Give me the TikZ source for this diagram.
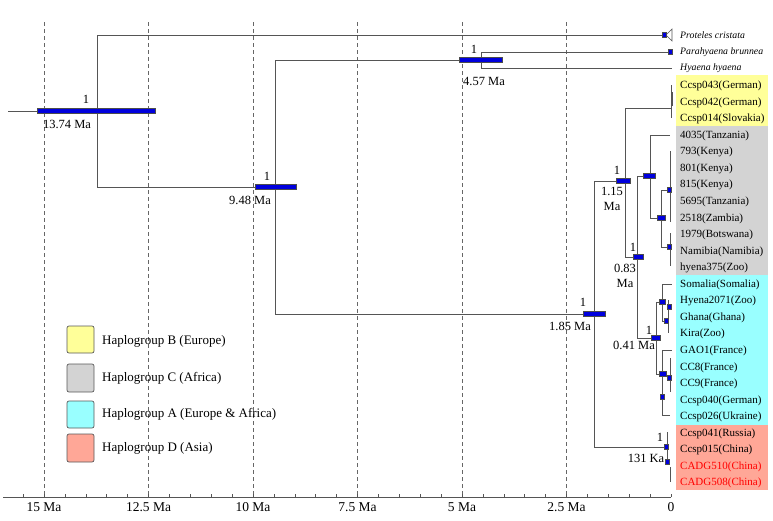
\documentclass[tikz,border=0pt]{standalone}
\usepackage{fontspec}
\setmainfont{Liberation Serif}
\definecolor{cyel}{HTML}{FFFF99}
\definecolor{cgry}{HTML}{D3D3D3}
\definecolor{ccya}{HTML}{99FFFF}
\definecolor{csal}{HTML}{FFA797}
\definecolor{brgray}{HTML}{555555}
\definecolor{hpdblue}{HTML}{0000DD}
\begin{document}
\begin{tikzpicture}[x=1pt,y=-1pt,
  branch/.style={draw=brgray, line width=0.9pt},
  gridline/.style={draw=gray!80!black, line width=0.7pt, dash pattern=on 4pt off 3pt},
  hpd/.style={fill=hpdblue, draw=black!70, line width=0.4pt},
  tiptxt/.style={anchor=west, inner sep=0pt, font=\fontsize{11}{13}\selectfont},
  outtxt/.style={anchor=west, inner sep=0pt, font=\fontsize{9.8}{12}\selectfont\itshape},
  nodetxt/.style={inner sep=0pt, font=\fontsize{12.5}{14}\selectfont},
  axistxt/.style={inner sep=0pt, anchor=north, font=\fontsize{13.5}{15}\selectfont},
  legbox/.style={draw=gray!70!black, line width=0.7pt, rounded corners=2pt},
  legtxt/.style={anchor=west, inner sep=0pt, font=\fontsize{13}{15}\selectfont}]
\useasboundingbox (0,0) rectangle (773,520);

% colour bands
\fill[cyel] (676,75) rectangle (768,126);
\fill[cgry] (676,126) rectangle (768,275);
\fill[ccya] (676,275) rectangle (768,425);
\fill[csal] (676,425) rectangle (768,490);

% dashed time grid
\foreach \t in {15,12.5,10,7.5,5,2.5}{
  \draw[gridline] ({671-41.8*\t},22) -- ({671-41.8*\t},494);
}

% axis
\coordinate (axL) at (3,497);
\coordinate (axR) at (671,497);
\draw[brgray, line width=0.9pt] (axL) -- (axR);
\foreach \k in {0,...,31}{
  \draw[brgray, line width=0.6pt] ({671-20.9*\k},497) -- ({671-20.9*\k},493.5);
}
\foreach \t/\l in {15/15 Ma,12.5/12.5 Ma,10/10 Ma,7.5/7.5 Ma,5/5 Ma,2.5/2.5 Ma,0/0}{
  \node[axistxt] (ax\t) at ({671-41.8*\t},502) {\l};
}

% tree node coordinates
\coordinate (rs) at (8,111);
\coordinate (root) at (97,111);
\coordinate (pc) at (666,35);
\coordinate (n948) at (275,187);
\coordinate (n457) at (481,60);
\coordinate (pb) at (670,52);
\coordinate (hh) at (672,68);
\coordinate (n185) at (594,314);
\coordinate (n115) at (625,181);
\coordinate (n131) at (667,447);
\coordinate (nB) at (671,108);
\coordinate (n083) at (637,257);
\coordinate (nC) at (650,176);
\coordinate (t4035) at (670,135);
\coordinate (nc2) at (661,218);
\coordinate (nc3) at (670,190);
\coordinate (nc4) at (670,247);
\coordinate (nA) at (656,338);
\coordinate (nA1) at (662,302);
\coordinate (nA2) at (662,374);
\coordinate (tSom) at (672,284);
\coordinate (nA1b) at (668,321);
\coordinate (tGAO) at (672,350);
\coordinate (t026) at (670,415);

% branches
\draw[branch] (rs) -- (root);
\draw[branch] (root) |- (pc);
\draw[branch] (root) |- (n948);
\draw[branch] (n948) |- (n457);
\draw[branch] (n948) |- (n185);
\draw[branch] (n457) |- (pb);
\draw[branch] (n457) |- (hh);
\draw[branch] (n185) |- (n115);
\draw[branch] (n185) |- (n131);
\draw[branch] (n115) |- (nB);
\draw[branch] (n115) |- (n083);
\draw[branch] (n083) |- (nC);
\draw[branch] (n083) |- (nA);
\draw[branch] (nC) |- (t4035);
\draw[branch] (nC) |- (nc2);
\draw[branch] (nc2) |- (nc3);
\draw[branch] (nc2) |- (nc4);
\draw[branch] (nA) |- (nA1);
\draw[branch] (nA) |- (nA2);
\draw[branch] (nA1) |- (tSom);
\draw[branch] (nA1) |- (nA1b);
\draw[branch] (nA2) |- (tGAO);
\draw[branch] (nA2) |- (t026);

% collapsed tip brackets
\draw[branch, line width=0.8pt] (nB) ++(0,-23) -- ++(0,33);
\draw[branch, line width=1.2pt] (672,92) -- (672,106);
\draw[branch, line width=0.8pt] (670,151) -- (670,222);
\draw[branch, line width=0.8pt] (670,233) -- (670,266);
\draw[branch, line width=0.8pt] (668,300) -- (668,333);
\draw[branch, line width=0.8pt] (670,358) -- (670,392);
\draw[branch, line width=0.8pt] (667,432) -- (667,462);
\draw[branch, line width=0.8pt] (670,467) -- (670,482);
\draw[branch, line width=0.6pt] (pc) -- (672,29) -- (672,41) -- cycle;

% HPD bars
\draw[hpd] (37,108.5) rectangle (155,113.5);
\draw[hpd] (255,184.5) rectangle (296,189.5);
\draw[hpd] (459,57.5) rectangle (502,62.5);
\draw[hpd] (583,311.5) rectangle (605,316.5);
\draw[hpd] (616,178.5) rectangle (630,183.5);
\draw[hpd] (633,254.5) rectangle (643,259.5);
\draw[hpd] (643,173.5) rectangle (655,178.5);
\draw[hpd] (657,215.5) rectangle (665,220.5);
\draw[hpd] (651,335.5) rectangle (660,340.5);
\draw[hpd] (659,299.5) rectangle (665,304.5);
\draw[hpd] (659,371.5) rectangle (666,376.5);
% small node markers
\foreach \x/\y in {664/35, 670/52, 669/190, 669/247, 666/321, 669/307, 662/397, 669/378, 666/447, 667/462}{
  \draw[hpd, line width=0.3pt] (\x-2,\y-2.5) rectangle (\x+2,\y+2.5);
}

% node labels
\node[nodetxt] (l1a) at (86,99) {1};
\node[nodetxt] (l1b) at (67,124) {13.74 Ma};
\node[nodetxt] (l2a) at (267,176) {1};
\node[nodetxt] (l2b) at (250,200) {9.48 Ma};
\node[nodetxt] (l3a) at (474,49) {1};
\node[nodetxt] (l3b) at (484,81) {4.57 Ma};
\node[nodetxt] (l4a) at (583,302) {1};
\node[nodetxt] (l4b) at (570,326) {1.85 Ma};
\node[nodetxt] (l5a) at (617,170) {1};
\node[nodetxt] (l5b) at (612,191) {1.15};
\node[nodetxt] (l5c) at (612,206) {Ma};
\node[nodetxt] (l6a) at (633,247) {1};
\node[nodetxt] (l6b) at (625,268) {0.83};
\node[nodetxt] (l6c) at (625,283) {Ma};
\node[nodetxt] (l7a) at (649,330) {1};
\node[nodetxt] (l7b) at (634,345) {0.41 Ma};
\node[nodetxt] (l8a) at (660,437) {1};
\node[nodetxt] (l8b) at (646,458) {131 Ka};

% outgroup tip labels
\node[outtxt] (tp1) at (680,35) {Proteles cristata};
\node[outtxt] (tp2) at (680,52) {Parahyaena brunnea};
\node[outtxt] (tp3) at (680,68) {Hyaena hyaena};

% Crocuta tip labels
\foreach \i/\lab/\col in {
  0/Ccsp043(German)/black, 1/Ccsp042(German)/black, 2/Ccsp014(Slovakia)/black,
  3/4035(Tanzania)/black, 4/793(Kenya)/black, 5/801(Kenya)/black, 6/815(Kenya)/black,
  7/5695(Tanzania)/black, 8/2518(Zambia)/black, 9/1979(Botswana)/black,
  10/Namibia(Namibia)/black, 11/hyena375(Zoo)/black,
  12/Somalia(Somalia)/black, 13/Hyena2071(Zoo)/black, 14/Ghana(Ghana)/black,
  15/Kira(Zoo)/black, 16/GAO1(France)/black, 17/CC8(France)/black, 18/CC9(France)/black,
  19/Ccsp040(German)/black, 20/Ccsp026(Ukraine)/black,
  21/Ccsp041(Russia)/black, 22/Ccsp015(China)/black, 23/CADG510(China)/red, 24/CADG508(China)/red}{
  \node[tiptxt, text=\col] (tip\i) at (680,{86+16.55*\i}) {\lab};
}

% legend
\draw[legbox, fill=cyel] (67,326) rectangle (94,353);
\draw[legbox, fill=cgry] (67,364) rectangle (94,392);
\draw[legbox, fill=ccya] (67,401) rectangle (94,428);
\draw[legbox, fill=csal] (67,434) rectangle (94,462);
\node[legtxt] (lg1) at (102,341) {Haplogroup B (Europe)};
\node[legtxt] (lg2) at (102,378) {Haplogroup C (Africa)};
\node[legtxt] (lg3) at (102,414) {Haplogroup A (Europe \& Africa)};
\node[legtxt] (lg4) at (102,448) {Haplogroup D (Asia)};
\end{tikzpicture}
\end{document}
